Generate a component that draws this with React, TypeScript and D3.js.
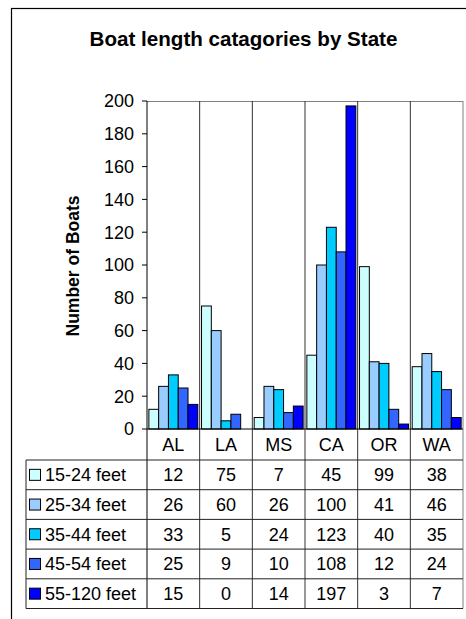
import React from "react";
import * as d3 from "d3";

const categories = ["AL", "LA", "MS", "CA", "OR", "WA"];
const seriesNames = ["15-24 feet", "25-34 feet", "35-44 feet", "45-54 feet", "55-120 feet"];
const s1524 = [12, 75, 7, 45, 99, 38];
const s2534 = [26, 60, 26, 100, 41, 46];
const s3544 = [33, 5, 24, 123, 40, 35];
const s4554 = [25, 9, 10, 108, 12, 24];
const s55120 = [15, 0, 14, 197, 3, 7];
const seriesValues = [s1524, s2534, s3544, s4554, s55120];
const seriesColors = ["#CCFFFF", "#99CCFF", "#00CCFF", "#3366FF", "#0000FF"];
const yTicks = [0, 20, 40, 60, 80, 100, 120, 140, 160, 180, 200];

const W = 466;
const H = 619;
const plotL = 147;
const plotR = 463;
const plotT = 101;
const plotB = 429;
const catRowB = 460;
const rowH = 29.7;
const tableL = 26;
const font = "'Liberation Sans', Arial, sans-serif";

export default function App() {
  const x0 = d3.scaleBand<string>().domain(categories).range([plotL, plotR]).paddingInner(0).paddingOuter(0);
  const x1 = d3
    .scaleBand<string>()
    .domain(seriesNames)
    .range([0, x0.bandwidth()])
    .paddingInner(0)
    .paddingOuter(0.19);
  const y = d3.scaleLinear().domain([0, 200]).range([plotB, plotT]);
  const tableB = catRowB + rowH * seriesNames.length;
  const rowY = (i: number) => catRowB + rowH * i;

  return (
    <svg width={W} height={H} style={{ position: "absolute", left: 0, top: 0, background: "#fff" }} fontFamily={font}>
      <rect x={0} y={0} width={W} height={H} fill="#fff" />
      {/* outer frame */}
      <rect x={11.5} y={8.5} width={W} height={H} fill="none" stroke="#000" strokeWidth={1.2} />
      {/* title */}
      <text x={243.5} y={46} textAnchor="middle" fontSize={20.6} fontWeight="bold">
        Boat length catagories by State
      </text>
      {/* y axis title */}
      <text
        transform={`translate(79,266) rotate(-90)`}
        textAnchor="middle"
        fontSize={17.5}
        fontWeight="bold"
      >
        Number of Boats
      </text>
      {/* plot top border */}
      <line x1={plotL} x2={plotR} y1={plotT + 0.5} y2={plotT + 0.5} stroke="#808080" />
      {/* bars */}
      {categories.map((c, ci) => (
        <g key={c} transform={`translate(${x0(c)},0)`}>
          {seriesNames.map((s, si) => {
            const v = seriesValues[si][ci];
            return (
              <rect
                key={s}
                x={x1(s)}
                y={y(v)}
                width={x1.bandwidth()}
                height={plotB - y(v)}
                fill={seriesColors[si]}
                stroke="#000"
                strokeWidth={1}
              />
            );
          })}
        </g>
      ))}
      {/* vertical dividers */}
      {categories.map((c, ci) => {
        const xx = (x0(c) as number) + x0.bandwidth();
        return (
          <line
            key={c}
            x1={xx}
            x2={xx}
            y1={plotT}
            y2={tableB}
            stroke={ci === categories.length - 1 ? "#808080" : "#333"}
            strokeWidth={1}
          />
        );
      })}
      {/* y axis */}
      <line x1={plotL} x2={plotL} y1={plotT} y2={tableB} stroke="#000" />
      {yTicks.map((t) => (
        <g key={t}>
          <line x1={plotL - 5} x2={plotL} y1={y(t)} y2={y(t)} stroke="#000" />
          <text x={134} y={y(t)} dy="0.35em" textAnchor="end" fontSize={18}>
            {t}
          </text>
        </g>
      ))}
      {/* x axis */}
      <line x1={plotL} x2={plotR} y1={plotB} y2={plotB} stroke="#000" />
      {/* category labels */}
      {categories.map((c) => (
        <text
          key={c}
          x={(x0(c) as number) + x0.bandwidth() / 2}
          y={(plotB + catRowB) / 2}
          dy="0.36em"
          textAnchor="middle"
          fontSize={18}
        >
          {c}
        </text>
      ))}
      {/* table horizontal lines */}
      {d3.range(seriesNames.length + 1).map((i) => (
        <line key={i} x1={tableL} x2={plotR} y1={rowY(i)} y2={rowY(i)} stroke="#222" />
      ))}
      <line x1={tableL} x2={tableL} y1={catRowB} y2={tableB} stroke="#222" />
      {/* table rows */}
      {seriesNames.map((s, si) => (
        <g key={s}>
          <rect
            x={29.5}
            y={rowY(si) + rowH / 2 - 5.5}
            width={11}
            height={11}
            fill={seriesColors[si]}
            stroke="#000"
          />
          <text x={45} y={rowY(si) + rowH / 2} dy="0.36em" fontSize={18}>
            {s}
          </text>
          {categories.map((c, ci) => (
            <text
              key={c}
              x={(x0(c) as number) + x0.bandwidth() / 2}
              y={rowY(si) + rowH / 2}
              dy="0.36em"
              textAnchor="middle"
              fontSize={18}
            >
              {seriesValues[si][ci]}
            </text>
          ))}
        </g>
      ))}
    </svg>
  );
}
